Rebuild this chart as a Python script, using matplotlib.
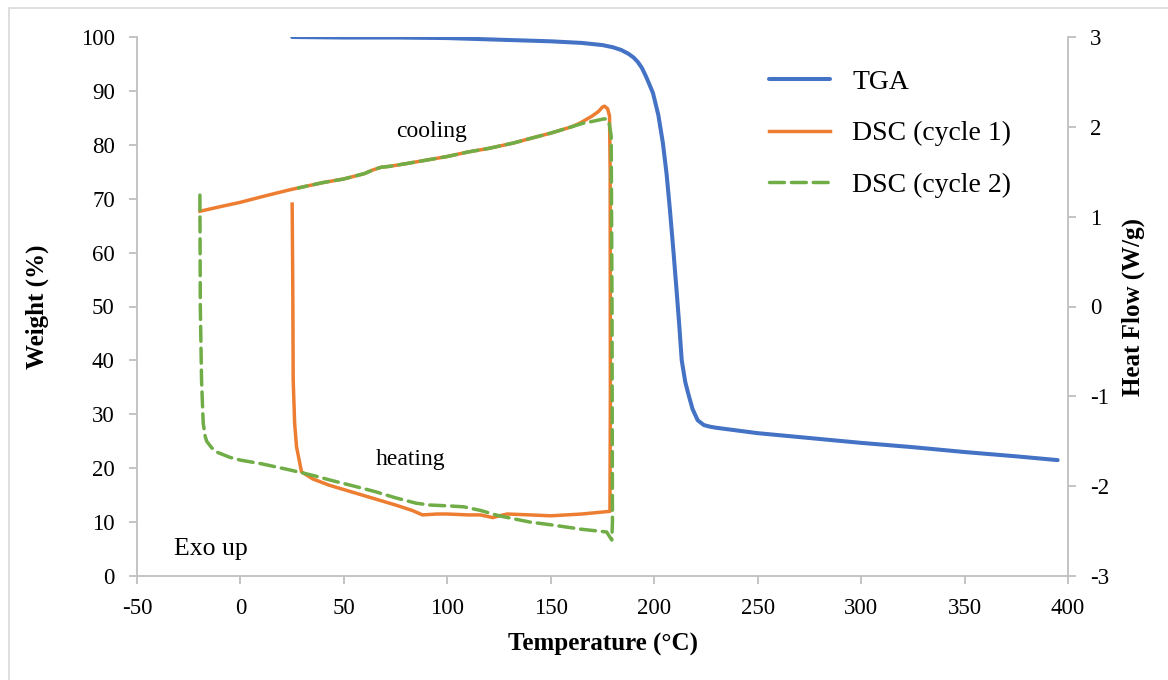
import matplotlib

matplotlib.use("Agg")
import matplotlib.pyplot as plt
from matplotlib.patches import Rectangle

plt.rcParams["font.family"] = ["Liberation Serif", "DejaVu Serif"]
plt.rcParams["axes.unicode_minus"] = False

# TGA: temperature (°C) vs weight (%)
tga_temp = [25, 50, 75, 100, 125, 150, 165, 175, 180, 184, 187.5, 190, 192, 194, 196,
            198, 199.4, 202, 204.2, 206, 207.6, 209.3, 210.9, 212.2, 213.3, 215, 216.4,
            218.5, 221, 224, 227, 230, 250, 275, 300, 325, 350, 375, 395]
tga_weight = [100, 99.9, 99.9, 99.8, 99.5, 99.2, 98.9, 98.5, 98.1, 97.6, 96.9, 96.2,
              95.4, 94.3, 92.7, 90.9, 89.6, 85.5, 80.3, 74.5, 67.9, 60.2, 52.5, 46, 40,
              36, 33.9, 31, 28.9, 28.0, 27.7, 27.5, 26.5, 25.6, 24.7, 23.9, 23.0, 22.2,
              21.5]

# DSC cycle 1: heating 25 -> 179, then cooling 179 -> -20 (W/g)
dsc1_temp = [25.0, 25.3, 25.5, 26.2, 27.1, 29.5, 35, 43, 59, 75, 83, 88, 95, 100,
             110, 116, 120, 122, 125, 129, 140, 150, 165, 178.6,
             178.8, 178.7, 178.4, 177.5, 176, 175, 173, 170, 167, 164, 160, 150, 140,
             132, 120, 110, 100, 90, 80, 72, 68, 64, 60, 50, 40, 30, 24, 10, 0,
             -10, -19.6]
dsc1_hf = [1.14, 0.2, -0.82, -1.3, -1.56, -1.84, -1.92, -1.99, -2.10, -2.21, -2.27,
           -2.32, -2.31, -2.31, -2.32, -2.32, -2.34, -2.35, -2.33, -2.31, -2.32, -2.33,
           -2.31, -2.28,
           -1.0, 1.5, 2.12, 2.20, 2.23, 2.22, 2.17, 2.12, 2.08, 2.04, 2.00, 1.93, 1.87,
           1.82, 1.76, 1.72, 1.67, 1.63, 1.59, 1.56, 1.55, 1.52, 1.48, 1.42, 1.38, 1.33,
           1.30, 1.22, 1.16, 1.11, 1.06]

# DSC cycle 2: heating -20 -> 180, then cooling 180 -> 28 (W/g)
dsc2_temp = [-19.6, -19.4, -18.8, -18, -17, -16.3, -14, -11.5, -5, 0, 10, 24, 35,
             43, 55, 65, 75, 85, 91.6, 101, 108, 116, 125, 140, 150, 165, 177, 179.5,
             179.8, 179.6, 179.2, 178, 176, 174, 170, 165.6, 160, 150, 140, 132, 120,
             110, 100, 90, 80, 72, 68, 64, 60, 50, 40, 30, 28]
dsc2_hf = [1.24, 0.0, -0.82, -1.3, -1.45, -1.50, -1.57, -1.62, -1.68, -1.71, -1.75,
           -1.82, -1.88, -1.93, -2.00, -2.06, -2.13, -2.19, -2.21, -2.22, -2.23, -2.27,
           -2.33, -2.40, -2.43, -2.48, -2.51, -2.60,
           -2.4, 0.0, 1.9, 2.07, 2.09, 2.08, 2.06, 2.04, 2.00, 1.93, 1.87, 1.82, 1.76,
           1.72, 1.67, 1.63, 1.59, 1.56, 1.55, 1.52, 1.48, 1.42, 1.38, 1.33, 1.32]

x_ticks = [-50, 0, 50, 100, 150, 200, 250, 300, 350, 400]
weight_ticks = [0, 10, 20, 30, 40, 50, 60, 70, 80, 90, 100]
hf_ticks = [-3, -2, -1, 0, 1, 2, 3]

BLUE = "#4472C4"
ORANGE = "#ED7D31"
GREEN = "#70AD47"
AXIS_GRAY = "#BFBFBF"

fig = plt.figure(figsize=(11.68, 6.8), dpi=100)
ax = fig.add_axes([137 / 1168, 1 - 576 / 680, (1068 - 137) / 1168, (576 - 37) / 680])
ax2 = ax.twinx()

# light frame round the chart area
fig.patches.append(Rectangle((9 / 1168, -0.05), 1.2, 0.988 + 0.05, transform=fig.transFigure,
                             fill=False, edgecolor="#D9D9D9", linewidth=1.2))

l_tga, = ax.plot(tga_temp, tga_weight, color=BLUE, linewidth=2.9, label="TGA",
                 solid_capstyle="round", solid_joinstyle="round")
l_c1, = ax2.plot(dsc1_temp, dsc1_hf, color=ORANGE, linewidth=2.5, label="DSC (cycle 1)",
                 solid_joinstyle="round")
l_c2, = ax2.plot(dsc2_temp, dsc2_hf, color=GREEN, linewidth=2.5, label="DSC (cycle 2)",
                 dashes=(4.3, 2.0), dash_capstyle="round")

ax.set_xlim(-50, 400)
ax.set_ylim(0, 100)
ax2.set_ylim(-3, 3)
ax.set_xticks(x_ticks)
ax.set_yticks(weight_ticks)
ax2.set_yticks(hf_ticks)

for a in (ax, ax2):
    for side in ("top", "left", "right", "bottom"):
        a.spines[side].set_color(AXIS_GRAY)
        a.spines[side].set_linewidth(1.3)
    a.spines["top"].set_visible(False)
    a.tick_params(direction="out", length=6, width=1.3, color=AXIS_GRAY,
                  labelsize=16.5, labelcolor="black", pad=10)
ax.spines["right"].set_visible(False)
ax2.spines["left"].set_visible(False)
ax2.spines["bottom"].set_visible(False)

ax.set_xlabel("Temperature (°C)", fontsize=18, fontweight="bold", labelpad=10)
ax.set_ylabel("Weight (%)", fontsize=18, fontweight="bold", labelpad=23)
ax2.set_ylabel("Heat Flow (W/g)", fontsize=18, fontweight="bold", labelpad=9)

ax.text(92.6, 82.4, "cooling", fontsize=17, ha="center", va="center")
ax.text(82.4, 21.7, "heating", fontsize=17, ha="center", va="center")
ax.text(-14.2, 5.0, "Exo up", fontsize=18.5, ha="center", va="center")

ax.legend(handles=[l_tga, l_c1, l_c2], loc="upper left",
          bbox_to_anchor=(758 / 1168, 1 - 58 / 680), bbox_transform=fig.transFigure,
          frameon=False, fontsize=20, handlelength=2.2, handletextpad=0.8,
          labelspacing=0.95, borderaxespad=0)

fig.savefig("out.png", dpi=100, facecolor="white")
plt.close(fig)
